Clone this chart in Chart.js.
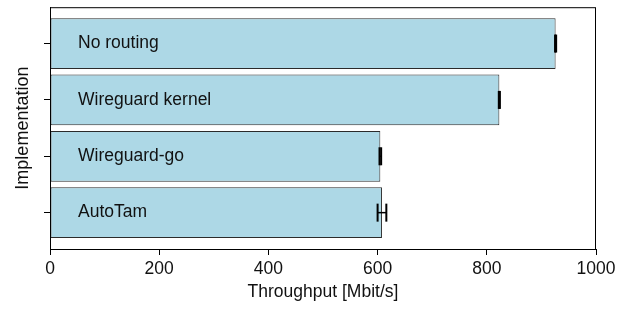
<!DOCTYPE html>
<html>
<head>
<meta charset="utf-8">
<script src="https://cdn.jsdelivr.net/npm/chart.js@4/dist/chart.umd.min.js"></script>
<style>
  html, body { margin: 0; padding: 0; background: #fff; }
  canvas { display: block; }
</style>
</head>
<body>
<canvas id="grafico" width="631" height="309"></canvas>
<script>
// Dados
const implementacoes = ['No routing', 'Wireguard kernel', 'Wireguard-go', 'AutoTam'];
const vazao = [926, 823, 605, 608];
const erro = [1, 1, 1.5, 8];
const ticksX = [0, 200, 400, 600, 800, 1000];

const fonte = "'Liberation Sans', Arial, Helvetica, sans-serif";

// Rótulos dentro das barras, barras de erro e moldura
const extrasPlugin = {
    id: 'extras',
    afterDatasetsDraw(chart) {
        const { ctx, chartArea, scales } = chart;
        const meta = chart.getDatasetMeta(0);
        ctx.save();
        meta.data.forEach((barra, i) => {
            // barra de erro
            const x1 = scales.x.getPixelForValue(vazao[i] - erro[i]);
            const x2 = scales.x.getPixelForValue(vazao[i] + erro[i]);
            const y = barra.y;
            ctx.strokeStyle = '#000';
            ctx.lineWidth = 1.5;
            ctx.beginPath();
            ctx.moveTo(x1, y);
            ctx.lineTo(x2, y);
            ctx.stroke();
            ctx.lineWidth = 2;
            [x1, x2].forEach(x => {
                ctx.beginPath();
                ctx.moveTo(x, y - 9);
                ctx.lineTo(x, y + 9);
                ctx.stroke();
            });

            // texto
            ctx.fillStyle = '#111';
            ctx.font = `17.5px ${fonte}`;
            ctx.textBaseline = 'middle';
            ctx.textAlign = 'left';
            ctx.fillText(implementacoes[i], chartArea.left + 28, y);
        });
        ctx.strokeStyle = '#000';
        ctx.lineWidth = 1;
        ctx.strokeRect(chartArea.left + 0.5, chartArea.top + 0.5,
            chartArea.right - chartArea.left - 1, chartArea.bottom - chartArea.top);
        ctx.restore();
    }
};

const ctx = document.getElementById('grafico');
new Chart(ctx, {
    type: 'bar',
    data: {
        datasets: [{
            data: vazao.map((v, i) => ({ x: v, y: i })),
            backgroundColor: '#add8e6',
            borderColor: '#2b2b2b',
            borderWidth: 1,
            borderSkipped: false,
            barPercentage: 0.9,
            categoryPercentage: 1
        }]
    },
    options: {
        indexAxis: 'y',
        responsive: false,
        animation: false,
        events: [],
        layout: { padding: { top: 4, right: 35, left: 0, bottom: 0 } },
        plugins: {
            legend: { display: false },
            tooltip: { enabled: false }
        },
        scales: {
            x: {
                type: 'linear',
                min: 0,
                max: 1000,
                afterBuildTicks: s => { s.ticks = ticksX.map(v => ({ value: v })); },
                afterFit: s => { s.height = 60; },
                grid: { drawOnChartArea: false, tickLength: 6, color: '#000' },
                border: { display: true, color: '#000' },
                ticks: {
                    color: '#111',
                    padding: 4,
                    callback: v => String(v),
                    font: { family: fonte, size: 17.5 }
                },
                title: {
                    display: true,
                    text: 'Throughput [Mbit/s]',
                    color: '#111',
                    font: { family: fonte, size: 17.5 },
                    padding: { top: 0, bottom: 6 }
                }
            },
            y: {
                type: 'linear',
                reverse: true,
                offset: false,
                min: -0.645,
                max: 3.645,
                afterBuildTicks: s => { s.ticks = implementacoes.map((c, i) => ({ value: i })); },
                afterFit: s => { s.width = 50; },
                grid: { drawOnChartArea: false, tickLength: 6, color: '#000', offset: false },
                border: { display: true, color: '#000' },
                ticks: { callback: () => '', padding: 0 },
                title: {
                    display: true,
                    text: 'Implementation',
                    color: '#111',
                    font: { family: fonte, size: 18 },
                    padding: { top: 12, bottom: 0 }
                }
            }
        }
    },
    plugins: [extrasPlugin]
});
</script>
</body>
</html>
